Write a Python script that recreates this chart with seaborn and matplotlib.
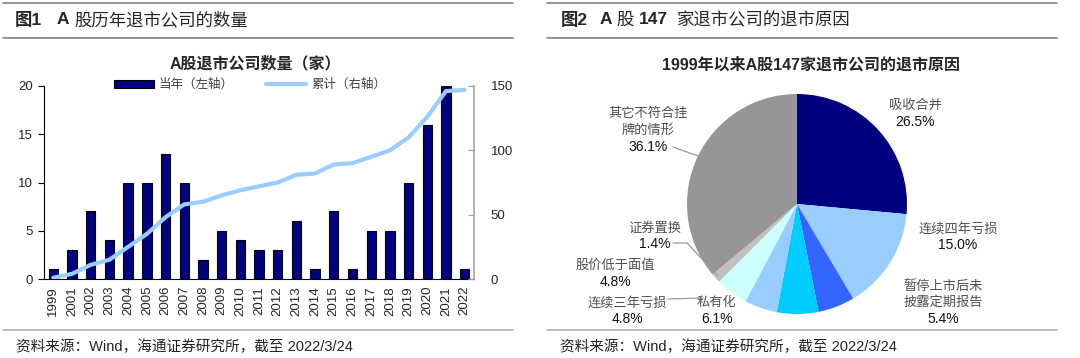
import numpy as np
import pandas as pd
import matplotlib
matplotlib.use('Agg')
import matplotlib.pyplot as plt
from matplotlib.lines import Line2D
from matplotlib.patches import Patch
import seaborn as sns

#%% Data
years = ['1999', '2001', '2002', '2003', '2004', '2005', '2006', '2007', '2008',
         '2009', '2010', '2011', '2012', '2013', '2014', '2015', '2016', '2017',
         '2018', '2019', '2020', '2021', '2022']
counts = [1, 3, 7, 4, 10, 10, 13, 10, 2, 5, 4, 3, 3, 6, 1, 7, 1, 5, 5, 10, 16, 20, 1]

reasons = ['吸收合并', '连续四年亏损', '暂停上市后未\n披露定期报告', '私有化',
           '连续三年亏损', '股价低于面值', '证券置换', '其它不符合挂\n牌的情形']
shares = [26.5, 15.0, 5.4, 6.1, 4.8, 4.8, 1.4, 36.1]
reason_colors = ['#000080', '#99CCFF', '#3366FF', '#00CCFF',
                 '#99CCFF', '#CCFFFF', '#C0C0C0', '#969696']

W, H = 1080, 358

def fx(px):
    return px / W

def fy(py):
    return 1 - py / H

#%% Style
sns.set_style('white')
plt.rcParams['font.family'] = ['Liberation Sans', 'Noto Sans CJK SC']
plt.rcParams['axes.unicode_minus'] = False

fig = plt.figure(figsize=(W / 100, H / 100), dpi=100)

# panel frame lines
for x0, x1 in [(3, 513), (547, 1057)]:
    fig.add_artist(Line2D([fx(x0), fx(x1)], [fy(3), fy(3)], color='#808080', lw=1.2))
    fig.add_artist(Line2D([fx(x0), fx(x1)], [fy(38), fy(38)], color='#808080', lw=1.2))
    fig.add_artist(Line2D([fx(x0), fx(x1)], [fy(330), fy(330)], color='#b0b0b0', lw=1.2))
    fig.text(fx(x0 + 13), fy(347), '资料来源：Wind，海通证券研究所，截至 2022/3/24',
             fontsize=10.5, color='#222222', va='center')

# panel headers
fig.text(fx(15), fy(20), '图1', fontsize=12.5, fontweight='bold', va='center')
fig.text(fx(57), fy(20), 'A', fontsize=12.5, fontweight='bold', va='center')
fig.text(fx(74), fy(20), '股历年退市公司的数量', fontsize=12.5, va='center')
fig.text(fx(561), fy(20), '图2', fontsize=12.5, fontweight='bold', va='center')
fig.text(fx(600), fy(20), 'A', fontsize=12.5, fontweight='bold', va='center')
fig.text(fx(616), fy(20), '股', fontsize=12.5, va='center')
fig.text(fx(639), fy(20), '147', fontsize=12.5, fontweight='bold', va='center')
fig.text(fx(677), fy(20), '家退市公司的退市原因', fontsize=12.5, va='center')

#%% Left: bars + cumulative line
df = pd.DataFrame({'year': years, 'count': counts})
df['cum'] = df['count'].cumsum()

ax = fig.add_axes([fx(44), fy(279), fx(474) - fx(44), fy(86) - fy(279)])
sns.barplot(data=df, x='year', y='count', color='#000080', edgecolor='black',
            linewidth=0.8, width=0.5, saturation=1, ax=ax)
ax.set_xlim(-0.5, len(years) - 0.5)
ax.set_ylim(0, 20)
ax.set_yticks([0, 5, 10, 15, 20])
ax.set_xlabel('')
ax.set_ylabel('')
ax.set_xticks(np.arange(len(years)))
ax.set_xticklabels(years, rotation=90, fontsize=9.5)
ax.set_xticks(np.arange(len(years)) + 0.5, minor=True)
ax.tick_params(axis='x', which='major', length=0, pad=5)
ax.tick_params(axis='x', which='minor', length=4, color='black', direction='out')
ax.tick_params(axis='y', length=4, color='black', direction='out', labelsize=9.5, pad=4)
for s in ['top', 'right']:
    ax.spines[s].set_visible(False)
for s in ['left', 'bottom']:
    ax.spines[s].set_color('black')
    ax.spines[s].set_linewidth(0.8)

ax2 = ax.twinx()
sns.lineplot(x=np.arange(len(years)), y=df['cum'], color='#99CCFF', lw=3,
             solid_joinstyle='round', solid_capstyle='round', ax=ax2)
ax2.set_ylim(0, 150)
ax2.set_yticks([0, 50, 100, 150])
ax2.set_ylabel('')
ax2.tick_params(axis='y', length=4, color='#999999', direction='in', labelsize=9.5, pad=12)
for s in ['top', 'left', 'bottom']:
    ax2.spines[s].set_visible(False)
ax2.spines['right'].set_color('#a6a6a6')
ax2.spines['right'].set_linewidth(1.2)

fig.text(fx(255), fy(64), 'A股退市公司数量（家）', fontsize=11.5, fontweight='bold',
         ha='center', va='center')
handles = [Patch(facecolor='#000080', edgecolor='black', linewidth=0.8),
           Line2D([0], [0], color='#99CCFF', lw=3)]
fig.legend(handles, ['当年（左轴）', '累计（右轴）'], ncol=2, frameon=False,
           loc='center', bbox_to_anchor=(fx(250), fy(85)), fontsize=9,
           handlelength=3.2, handleheight=0.6, handletextpad=0.4, columnspacing=2.6,
           labelcolor='#404040')

#%% Right: pie
cx, cy, r = 797, 204, 110
pax = fig.add_axes([fx(cx - r), fy(cy + r), fx(2 * r), (2 * r) / H])
pax.pie(shares, colors=reason_colors, startangle=90, counterclock=False,
        wedgeprops=dict(linewidth=0))
pax.set_xlim(-1, 1)
pax.set_ylim(-1, 1)
pax.set_aspect('auto')

fig.text(fx(811), fy(65), '1999年以来A股147家退市公司的退市原因', fontsize=11.5,
         fontweight='bold', ha='center', va='center')

label_pos = [(915, 100), (958, 223), (943, 280), (717, 297),
             (627, 297), (615, 260), (655, 222), (648, 108)]
for name, val, (lx, ly) in zip(reasons, shares, label_pos):
    nlines = name.count('\n') + 1
    fig.text(fx(lx), fy(ly), name, fontsize=9.5, color='#505050', ha='center',
             va='top', linespacing=1.35)
    fig.text(fx(lx), fy(ly + 17 * nlines - 2), f'{val:.1f}%', fontsize=10,
             color='#111111', ha='center', va='top')

lead_color = '#9a9a9a'
fig.add_artist(Line2D([fx(673), fx(698)], [fy(147), fy(156)], color=lead_color, lw=0.9))
fig.add_artist(Line2D([fx(673), fx(687), fx(718)], [fy(243), fy(243), fy(276)],
                      color=lead_color, lw=0.9))
fig.add_artist(Line2D([fx(668), fx(703)], [fy(299), fy(298)], color=lead_color, lw=0.9))

fig.savefig('out.png', dpi=100)
